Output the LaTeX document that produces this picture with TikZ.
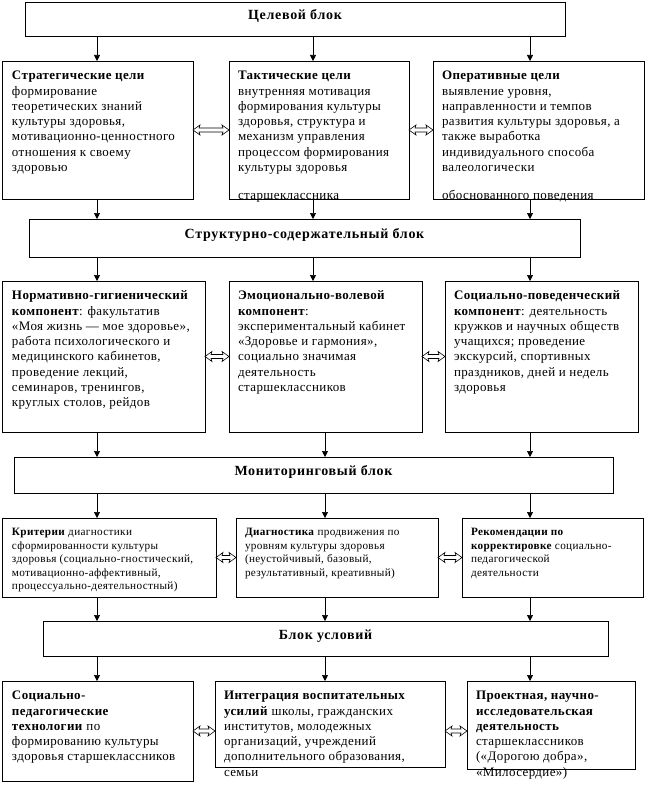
\documentclass[tikz,border=0pt]{standalone}
\usepackage{fontspec}
\setmainfont{Liberation Serif}[LetterSpace=3]
\usetikzlibrary{arrows.meta,calc}
\newcommand{\fa}{\fontsize{13}{15.3}\selectfont}
\newcommand{\fb}{\fontsize{11.2}{13.6}\selectfont}
\newcommand{\blkfont}{\fontsize{14}{16}\selectfont\bfseries\addfontfeatures{LetterSpace=5}}
\tikzset{
  box/.style={draw, line width=0.8pt, anchor=north west, outer sep=0pt, inner ysep=8pt},
  blk/.style={draw, line width=0.8pt, anchor=north west, outer sep=0pt, inner sep=0pt,
              font=\blkfont, text height=10pt, text depth=9pt},
  arr/.style={-{Triangle[length=6pt,width=6pt]}, line width=0.7pt},
  dblst/.style={draw, fill=white, line width=0.6pt, line join=miter}
}
% name, x, y, w, h, font, padx, lines
\newcommand\bx[8]{%
  \node[box, inner xsep=#7pt] (#1) at (#2,#3)
  {\begin{minipage}[t][\dimexpr #5pt-16pt\relax][t]{\dimexpr #4pt-#7pt-#7pt\relax}#6%
   \begin{tabular}[t]{@{}l@{}}#8\end{tabular}\end{minipage}};}
% hollow double arrow between two points on one level
\newcommand\dbar[2]{%
  \draw[dblst] let \p1=(#1), \p2=(#2) in
   (\x1,\y1) -- (\x1+7pt,\y1+5pt) -- (\x1+6pt,\y1+2pt) -- (\x2-6pt,\y1+2pt)
   -- (\x2-7pt,\y1+5pt) -- (\x2,\y1) -- (\x2-7pt,\y1-5pt) -- (\x2-6pt,\y1-2pt)
   -- (\x1+6pt,\y1-2pt) -- (\x1+7pt,\y1-5pt) -- cycle;}
\begin{document}
\begin{tikzpicture}[x=1pt,y=-1pt]
\useasboundingbox (0,0) rectangle (662,792);
\coordinate (xa) at (97,0);
\coordinate (xb) at (313,0);
\coordinate (xd) at (325,0);
\coordinate (xc) at (530,0);

% block titles
\node[blk, minimum width=540pt, minimum height=34pt] (T) at (25,2) {Целевой блок};
\node[blk, minimum width=551pt, minimum height=38pt] (S) at (29,219) {Структурно-содержательный блок};
\node[blk, minimum width=599pt, minimum height=36pt] (M) at (14,457) {Мониторинговый блок};
\node[blk, minimum width=565pt, minimum height=35pt] (U) at (43,621) {Блок условий};

% row 1
\bx{B1}{2}{61}{191}{138}{\fa}{10}{\textbf{Стратегические цели}\\ формирование\\ теоретических знаний\\ культуры здоровья,\\ мотивационно-ценностного\\ отношения к своему\\ здоровью}
\bx{B2}{229}{61}{180}{138}{\fa}{9}{\textbf{Тактические цели}\\ внутренняя мотивация\\ формирования культуры\\ здоровья, структура и\\ механизм управления\\ процессом формирования\\ культуры здоровья\\[12.5pt] старшеклассника}
\bx{B3}{433}{61}{211}{138}{\fa}{9}{\textbf{Оперативные цели}\\ выявление уровня,\\ направленности и темпов\\ развития культуры здоровья, а\\ также выработка\\ индивидуального способа\\ валеологически\\[12.5pt] обоснованного поведения}

% row 2
\bx{C1}{2}{281}{203}{151}{\fa}{10}{\textbf{Нормативно-гигиенический}\\ \textbf{компонент}: факультатив\\ «Моя жизнь — мое здоровье»,\\ работа психологического и\\ медицинского кабинетов,\\ проведение лекций,\\ семинаров, тренингов,\\ круглых столов, рейдов}
\bx{C2}{229}{281}{193}{151}{\fa}{9}{\textbf{Эмоционально-волевой}\\ \textbf{компонент}:\\ экспериментальный кабинет\\ «Здоровье и гармония»,\\ социально значимая\\ деятельность\\ старшеклассников}
\bx{C3}{445}{281}{193}{151}{\fa}{9}{\textbf{Социально-поведенческий}\\ \textbf{компонент}: деятельность\\ кружков и научных обществ\\ учащихся; проведение\\ экскурсий, спортивных\\ праздников, дней и недель\\ здоровья}

% row 3
\bx{D1}{2}{518}{214}{79}{\fb}{10}{\textbf{Критерии} диагностики\\ сформированности культуры\\ здоровья (социально-гностический,\\ мотивационно-аффективный,\\ процессуально-деятельностный)}
\bx{D2}{236}{518}{202}{79}{\fb}{9}{\textbf{Диагностика} продвижения по\\ уровням культуры здоровья\\ (неустойчивый, базовый,\\ результативный, креативный)}
\bx{D3}{462}{518}{181}{79}{\fb}{9}{\textbf{Рекомендации по}\\ \textbf{корректировке} социально-\\ педагогической\\ деятельности}

% row 4
\bx{E1}{2}{681}{191}{100}{\fa}{10}{\textbf{Социально-}\\ \textbf{педагогические}\\ \textbf{технологии} по\\ формированию культуры\\ здоровья старшеклассников}
\bx{E2}{215}{681}{230}{86}{\fa}{9}{\textbf{Интеграция воспитательных}\\ \textbf{усилий} школы, гражданских\\ институтов, молодежных\\ организаций, учреждений\\ дополнительного образования,\\ семьи}
\bx{E3}{467}{681}{168}{88}{\fa}{9}{\textbf{Проектная, научно-}\\ \textbf{исследовательская}\\ \textbf{деятельность}\\ старшеклассников\\ («Дорогою добра»,\\ «Милосердие»)}

% vertical arrows
\foreach \c/\r in {xa/B1, xb/B2, xc/B3} \draw[arr] (T.south -| \c) -- (\r.north -| \c);
\foreach \c/\r in {xa/B1, xb/B2, xc/B3} \draw[arr] (\r.south -| \c) -- (S.north -| \c);
\foreach \c/\r in {xa/C1, xb/C2, xc/C3} \draw[arr] (S.south -| \c) -- (\r.north -| \c);
\foreach \c/\r in {xa/C1, xd/C2, xc/C3} \draw[arr] (\r.south -| \c) -- (M.north -| \c);
\foreach \c/\r in {xa/D1, xd/D2, xc/D3} \draw[arr] (M.south -| \c) -- (\r.north -| \c);
\foreach \c/\r in {xa/D1, xd/D2, xc/D3} \draw[arr] (\r.south -| \c) -- (U.north -| \c);
\foreach \c/\r in {xa/E1, xd/E2, xc/E3} \draw[arr] (U.south -| \c) -- (\r.north -| \c);

% double arrows
\dbar{B1.east}{B2.west}
\dbar{B2.east}{B3.west}
\dbar{C1.east}{C2.west}
\dbar{C2.east}{C3.west}
\dbar{D1.east}{D2.west}
\dbar{D2.east}{D3.west}
\dbar{E1.east}{E1.east -| E2.west}
\dbar{E1.east -| E2.east}{E1.east -| E3.west}
\end{tikzpicture}
\end{document}
